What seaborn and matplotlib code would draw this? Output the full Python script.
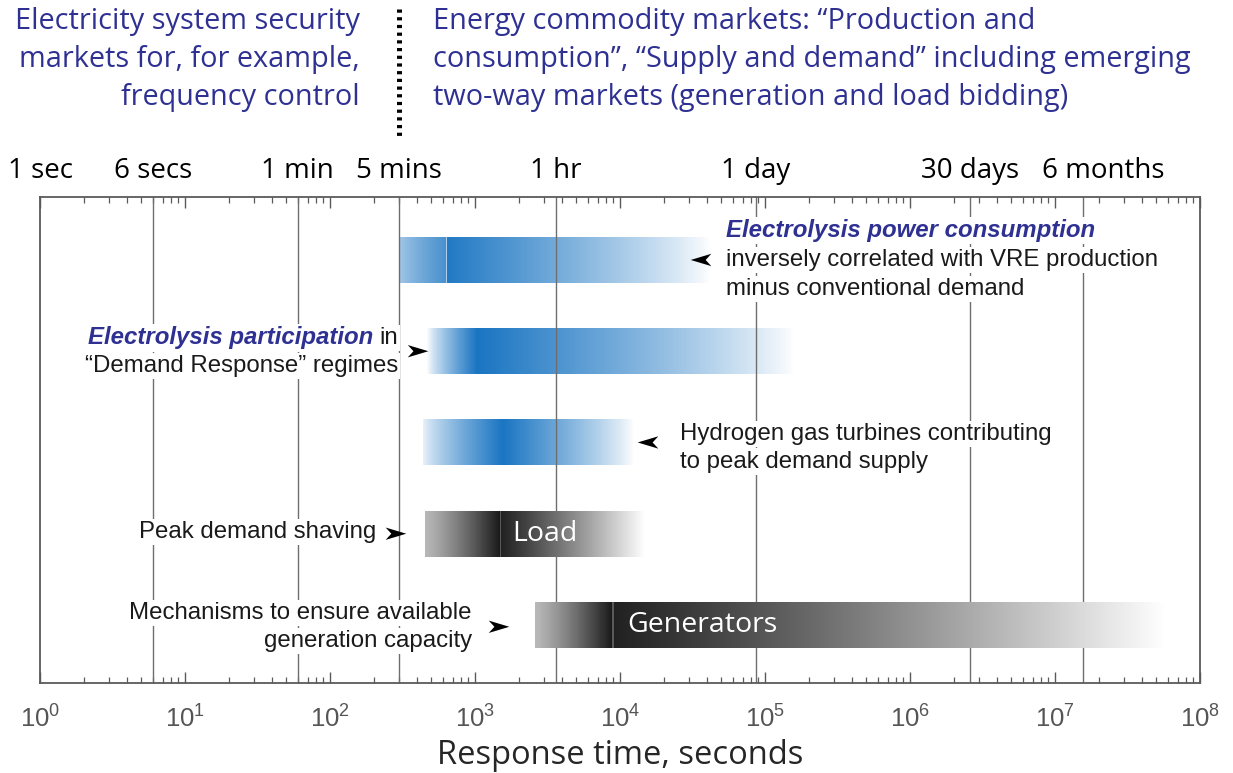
import numpy as np
import matplotlib
matplotlib.use("Agg")
import matplotlib.pyplot as plt
import seaborn as sns
from matplotlib.colors import ListedColormap
from matplotlib.path import Path
from matplotlib.lines import Line2D

# ---------------- data ----------------
time_marks_lbl = ["1 sec", "6 secs", "1 min", "5 mins", "1 hr", "1 day", "30 days", "6 months"]
time_marks_pos_s = [1, 6, 60, 300, 3600, 86400, 2592000, 2.14e7]
grid_times_s = [6, 60, 300, 3600, 86400, 2592000, 15552000]

# blue (electrolysis / hydrogen) bars: row, start, peak, end (seconds)
blue_rows = [0, 1, 2]
blue_start = [300, 470, 440]
blue_peak = [630, 1030, 1560]
blue_end = [42000, 160000, 12500]
blue_start_alpha = [0.40, 0.03, 0.10]
blue_peak_left_alpha = [0.80, 1.0, 1.0]

# grey (conventional) bars
grey_labels = ["Load", "Generators"]
grey_rows = [3, 4]
grey_start = [450, 2600]
grey_edge = [1490, 8800]
grey_end = [15000, 6.0e7]
grey_label_x = [1800, 11200]

decades = list(range(0, 9))

# ---------------- style ----------------
sns.set_theme(style="white")
plt.rcParams["font.family"] = ["Liberation Sans", "DejaVu Sans"]
plt.rcParams["mathtext.fontset"] = "custom"
plt.rcParams["mathtext.rm"] = "Liberation Sans"
plt.rcParams["mathtext.it"] = "Liberation Sans:italic"
plt.rcParams["mathtext.default"] = "regular"

MYRIAD = ["Open Sans", "DejaVu Sans"]
BLUE_TXT = "#2e3192"
BAR_BLUE = (0.10, 0.46, 0.76)
LINE_C = "#6e6e6e"
SPINE_C = "#5a5a5a"

fig = plt.figure(figsize=(12.33, 7.73), dpi=100)
ax = fig.add_axes([40 / 1233, 1 - 683 / 773, 1160 / 1233, 486 / 773])
ax.set_xscale("log")
ax.set_xlim(1, 1e8)
ax.set_ylim(4.636, -0.69)
ax.set_yticks([])

for s in ax.spines.values():
    s.set_color(SPINE_C)
    s.set_linewidth(1.3)

ax.set_xticks([10 ** d for d in decades])
ax.set_xticklabels([f"$10^{{{d}}}$" for d in decades], color="#555555", fontsize=18.5)
ax.tick_params(axis="x", which="major", direction="in", length=8, width=1,
               color=SPINE_C, top=True, bottom=True, pad=16)
ax.tick_params(axis="x", which="minor", direction="in", length=4.5, width=0.9,
               color=SPINE_C, top=True, bottom=True)
ax.set_xlabel("Response time, seconds", fontsize=23.5, family=MYRIAD, labelpad=5)

# vertical time lines
for t in grid_times_s:
    ax.axvline(t, color=LINE_C, lw=1.0, zorder=2.5)

# top time labels
for t, lbl in zip(time_marks_pos_s, time_marks_lbl):
    ax.text(t, 1.053, lbl, transform=ax.get_xaxis_transform(), ha="center", va="center",
            fontsize=20, family=MYRIAD, color="black")

# ---------------- gradient bars ----------------
H = 0.504
N = 700
blue_cmap = ListedColormap(np.column_stack([np.tile(BAR_BLUE, (256, 1)), np.linspace(0, 1, 256)]))
grey_cmap = plt.get_cmap("gray")


def draw_grad(x0, x1, row, vals, cmap, z):
    xs = np.logspace(np.log10(x0), np.log10(x1), len(vals) + 1)
    ax.pcolormesh(xs, [row - H / 2, row + H / 2], np.asarray(vals)[None, :], cmap=cmap,
                  vmin=0, vmax=1, shading="flat", zorder=z, antialiased=False,
                  edgecolors="none", linewidth=0)


for r, x0, xp, x1, a0, a1 in zip(blue_rows, blue_start, blue_peak, blue_end,
                                  blue_start_alpha, blue_peak_left_alpha):
    u = np.linspace(np.log10(x0), np.log10(x1), N)
    up = np.log10(xp)
    left = u < up
    tl = (u - np.log10(x0)) / (up - np.log10(x0))
    tr = (u - up) / (np.log10(x1) - up)
    alpha = np.where(left, a0 + (a1 - a0) * np.clip(tl, 0, 1) ** 0.8,
                     (1 - np.clip(tr, 0, 1)) ** 0.85)
    if a1 < 1.0:
        gap = (u >= up) & (u < up + 0.008)
        alpha = np.where(gap, 0.35, alpha)
        alpha = np.where(u >= up + 0.008, 0.97 * alpha, alpha)
    draw_grad(x0, x1, r, alpha, blue_cmap, 2)

for lbl, r, x0, xe, x1, lx in zip(grey_labels, grey_rows, grey_start, grey_edge, grey_end, grey_label_x):
    u = np.linspace(np.log10(x0), np.log10(x1), N)
    ue = np.log10(xe)
    tl = (u - np.log10(x0)) / (ue - np.log10(x0))
    tr = (u - ue) / (np.log10(x1) - ue)
    g = np.where(u < ue, 0.72 - 0.62 * np.clip(tl, 0, 1) ** 1.2,
                 0.13 + 0.87 * np.clip(tr, 0, 1) ** 1.1)
    gap = (u >= ue) & (u < ue + 0.008)
    g = np.where(gap, 0.35, g)
    draw_grad(x0, x1, r, g, grey_cmap, 3)
    ax.text(lx, r, lbl, ha="left", va="center", color="white", fontsize=20.5,
            family=MYRIAD, zorder=4)

# ---------------- arrowheads ----------------
arrow_r = Path([(1, 0), (-1, 0.6), (-0.45, 0), (-1, -0.6), (1, 0)],
               [Path.MOVETO, Path.LINETO, Path.LINETO, Path.LINETO, Path.CLOSEPOLY])
arrow_l = Path([(-1, 0), (1, 0.6), (0.45, 0), (1, -0.6), (-1, 0)],
               [Path.MOVETO, Path.LINETO, Path.LINETO, Path.LINETO, Path.CLOSEPOLY])
sns.scatterplot(x=[405, 285, 1465], y=[1, 3, 4.02], marker=arrow_r, s=220,
                color="black", edgecolor="none", ax=ax, zorder=6, legend=False)
sns.scatterplot(x=[36200, 15600], y=[0, 2], marker=arrow_l, s=220,
                color="black", edgecolor="none", ax=ax, zorder=6, legend=False)

# ---------------- annotations ----------------
box = dict(facecolor="white", edgecolor="none", pad=1.5)
FS = 17.3
TXT = "#1a1a1a"
ax.text(54000, -0.32, "Electrolysis power consumption", ha="left", va="center",
        fontsize=FS, color=BLUE_TXT, fontweight="bold", fontstyle="italic", bbox=box, zorder=5)
ax.text(54000, 0.0, "inversely correlated with VRE production", ha="left", va="center",
        fontsize=FS, color=TXT, bbox=box, zorder=5)
ax.text(54000, 0.32, "minus conventional demand", ha="left", va="center",
        fontsize=FS, color=TXT, bbox=box, zorder=5)

t_in = ax.text(294, 0.855, "in", ha="right", va="center", fontsize=FS, color=TXT,
               bbox=box, zorder=5)
ax.annotate("Electrolysis participation", xy=(0, 0.5), xycoords=t_in, xytext=(-4, 0),
            textcoords="offset points", ha="right", va="center", fontsize=FS,
            color=BLUE_TXT, fontweight="bold", fontstyle="italic", bbox=box, zorder=5)
ax.text(294, 1.16, "\u201cDemand Response\u201d regimes", ha="right", va="center",
        fontsize=FS, color=TXT, bbox=box, zorder=5)

ax.text(25900, 1.91, "Hydrogen gas turbines contributing", ha="left", va="center",
        fontsize=FS, color=TXT, bbox=box, zorder=5)
ax.text(25900, 2.21, "to peak demand supply", ha="left", va="center",
        fontsize=FS, color=TXT, bbox=box, zorder=5)

ax.text(207, 2.98, "Peak demand shaving", ha="right", va="center",
        fontsize=FS, color=TXT, bbox=box, zorder=5)

ax.text(953, 3.87, "Mechanisms to ensure available", ha="right", va="center",
        fontsize=FS, color=TXT, bbox=box, zorder=5)
ax.text(953, 4.175, "generation capacity", ha="right", va="center",
        fontsize=FS, color=TXT, bbox=box, zorder=5)

# ---------------- header ----------------
left_hdr = ["Electricity system security", "markets for, for example,", "frequency control"]
right_hdr = ["Energy commodity markets: \u201cProduction and",
             "consumption\u201d, \u201cSupply and demand\u201d including emerging",
             "two-way markets (generation and load bidding)"]
hdr_y = [22, 60, 98]
for yy, a, b in zip(hdr_y, left_hdr, right_hdr):
    fig.text(360 / 1233, 1 - yy / 773, a, ha="right", va="center", fontsize=20.8,
             family=MYRIAD, color=BLUE_TXT)
    fig.text(433 / 1233, 1 - yy / 773, b, ha="left", va="center", fontsize=20.8,
             family=MYRIAD, color=BLUE_TXT)

fig.add_artist(Line2D([399 / 1233, 399 / 1233], [1 - 9 / 773, 1 - 137 / 773],
                      transform=fig.transFigure, color="black", lw=3.6,
                      linestyle=(0, (0.64, 0.9)), solid_capstyle="butt",
                      dash_capstyle="butt"))

fig.savefig("out.png", dpi=100, facecolor="white")
